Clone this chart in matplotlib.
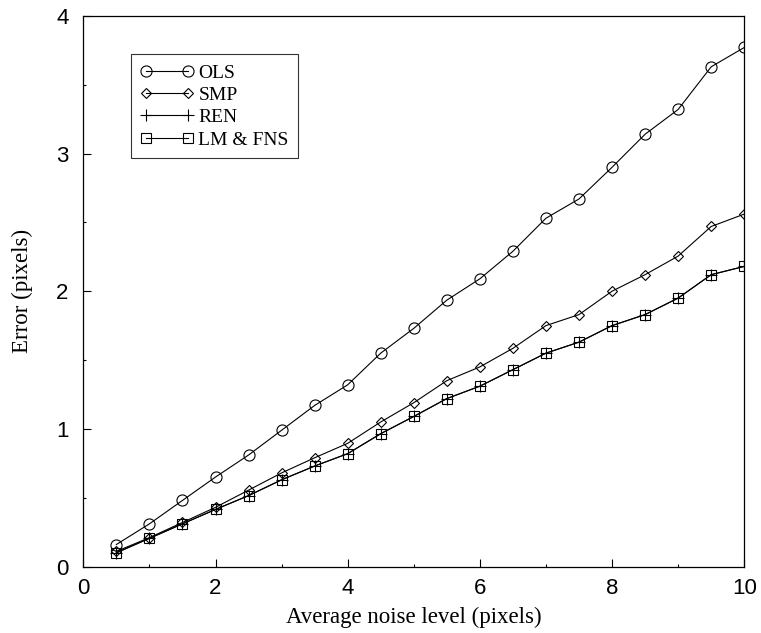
import matplotlib
matplotlib.use("Agg")
import matplotlib.pyplot as plt
from matplotlib.ticker import MultipleLocator

# данные
noise = [0.5, 1.0, 1.5, 2.0, 2.5, 3.0, 3.5, 4.0, 4.5, 5.0,
         5.5, 6.0, 6.5, 7.0, 7.5, 8.0, 8.5, 9.0, 9.5, 10.0]
ols = [0.16, 0.31, 0.48, 0.65, 0.81, 0.99, 1.17, 1.32, 1.55, 1.73,
       1.935, 2.09, 2.29, 2.53, 2.67, 2.90, 3.14, 3.32, 3.63, 3.77]
smp = [0.11, 0.21, 0.32, 0.43, 0.555, 0.68, 0.79, 0.895, 1.05, 1.19,
       1.35, 1.45, 1.585, 1.75, 1.83, 2.00, 2.12, 2.255, 2.47, 2.56]
ren = [0.10, 0.205, 0.31, 0.415, 0.515, 0.63, 0.73, 0.82, 0.965, 1.09,
       1.22, 1.31, 1.43, 1.55, 1.63, 1.75, 1.83, 1.95, 2.12, 2.18]
lm_fns = [0.10, 0.205, 0.31, 0.415, 0.515, 0.63, 0.73, 0.82, 0.965, 1.09,
          1.22, 1.31, 1.43, 1.55, 1.63, 1.75, 1.83, 1.95, 2.12, 2.18]

serif = ['Liberation Serif', 'DejaVu Serif']
sans = ['Liberation Sans', 'DejaVu Sans']

fig = plt.figure(figsize=(7.61, 6.33), dpi=100)
ax = fig.add_axes([0.1095, 0.105, 0.8685, 0.870])

style = dict(color='black', lw=0.8, mfc='none', mec='black', mew=0.8)
ax.plot(noise, ols, marker='o', ms=8, label='OLS', **style)
ax.plot(noise, smp, marker='D', ms=5.5, label='SMP', **style)
ax.plot(noise, ren, marker='+', ms=8, label='REN', **style)
ax.plot(noise, lm_fns, marker='s', ms=6.5, label='LM & FNS', **style)

ax.set_xlim(0, 10)
ax.set_ylim(0, 4)
ax.xaxis.set_major_locator(MultipleLocator(2))
ax.xaxis.set_minor_locator(MultipleLocator(1))
ax.yaxis.set_major_locator(MultipleLocator(1))
ax.yaxis.set_minor_locator(MultipleLocator(0.5))
ax.tick_params(which='both', direction='in', width=0.8,
               top=False, right=False, labelsize=16)
ax.tick_params(axis='x', pad=8)
ax.tick_params(axis='y', pad=10.5)
ax.tick_params(which='major', length=5.5)
ax.tick_params(which='minor', length=2.5)
for lab in ax.get_xticklabels() + ax.get_yticklabels():
    lab.set_family(sans)
for sp in ax.spines.values():
    sp.set_linewidth(0.9)

ax.set_xlabel('Average noise level (pixels)', family=serif, fontsize=16.5, labelpad=6)
ax.set_ylabel('Error (pixels)', family=serif, fontsize=16.5, labelpad=17)

leg = ax.legend(loc='upper left', bbox_to_anchor=(0.072, 0.93), numpoints=2,
                prop={'family': serif, 'size': 14}, frameon=True, fancybox=False,
                handlelength=2.75, handletextpad=0.22, labelspacing=0.24,
                borderpad=0.5, borderaxespad=0)
leg.get_frame().set_edgecolor('black')
leg.get_frame().set_linewidth(0.8)

plt.savefig('out.png', dpi=100)
